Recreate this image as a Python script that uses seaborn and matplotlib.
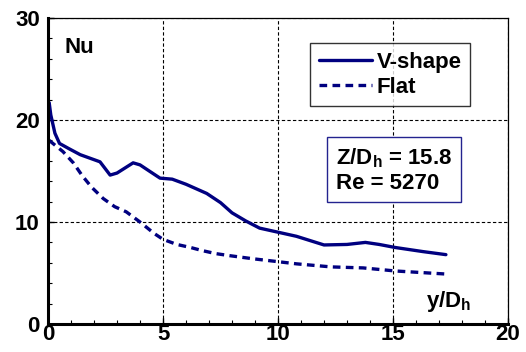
import matplotlib
matplotlib.use("Agg")
import matplotlib.pyplot as plt
import seaborn as sns
import pandas as pd
from matplotlib.ticker import MultipleLocator

sns.set_theme(style="white")
plt.rcParams['font.family'] = ['Liberation Sans', 'DejaVu Sans']
plt.rcParams['font.weight'] = 'bold'
plt.rcParams['text.color'] = 'black'
plt.rcParams['axes.labelcolor'] = 'black'
plt.rcParams['xtick.color'] = 'black'
plt.rcParams['ytick.color'] = 'black'
plt.rcParams['mathtext.fontset'] = 'custom'
plt.rcParams['mathtext.rm'] = 'Liberation Sans:bold'
plt.rcParams['mathtext.bf'] = 'Liberation Sans:bold'
plt.rcParams['mathtext.it'] = 'Liberation Sans:bold'

vshape_x = [0.05, 0.12, 0.3, 0.5, 0.9, 1.4, 2.26, 2.7, 3.0, 3.7, 4.0, 4.4, 4.87, 5.4, 6.0, 6.9, 7.5, 8.0, 8.6, 9.2, 10.8, 12.0, 13.0, 13.8, 14.4, 15.1, 16.3, 17.3]
vshape_y = [21.7, 20.5, 18.7, 17.7, 17.2, 16.6, 15.9, 14.6, 14.8, 15.8, 15.6, 15.0, 14.3, 14.2, 13.7, 12.8, 11.9, 10.9, 10.1, 9.4, 8.6, 7.75, 7.8, 8.0, 7.8, 7.5, 7.1, 6.8]
flat_x = [0.05, 0.65, 1.1, 1.5, 1.9, 2.4, 2.9, 3.4, 4.0, 4.6, 5.0, 5.6, 6.2, 6.7, 7.3, 7.9, 8.9, 10.8, 12.3, 13.7, 15.1, 17.3]
flat_y = [18.0, 16.9, 15.8, 14.5, 13.4, 12.3, 11.5, 11.0, 10.0, 8.9, 8.3, 7.8, 7.5, 7.2, 6.9, 6.7, 6.4, 5.9, 5.6, 5.5, 5.2, 4.9]

df = pd.concat([
    pd.DataFrame({"y": vshape_x, "Nu": vshape_y, "case": "V-shape"}),
    pd.DataFrame({"y": flat_x, "Nu": flat_y, "case": "Flat"}),
])

navy = "#000080"
FS = 16
fig = plt.figure(figsize=(5.26, 3.52), dpi=100)
ax = fig.add_axes([0.0913, 0.0795, 0.8745, 0.8694])
sns.lineplot(data=df, x="y", y="Nu", hue="case", style="case",
             palette={"V-shape": navy, "Flat": navy},
             dashes={"V-shape": "", "Flat": (2.3, 1.6)},
             linewidth=2.4, ax=ax, sort=False, estimator=None)

ax.set_xlim(0, 20)
ax.set_ylim(0, 30)
ax.xaxis.set_major_locator(MultipleLocator(5))
ax.xaxis.set_minor_locator(MultipleLocator(1))
ax.yaxis.set_major_locator(MultipleLocator(10))
ax.yaxis.set_minor_locator(MultipleLocator(2))
ax.tick_params(which='both', direction='in', colors='black', labelsize=FS, bottom=True, left=True)
ax.tick_params(which='major', length=4, width=1)
ax.tick_params(which='minor', length=3, width=0.8)
ax.tick_params(axis='x', pad=0)
ax.tick_params(axis='y', pad=6)
for lab in ax.get_xticklabels() + ax.get_yticklabels():
    lab.set_fontweight('bold')
    lab.set_family('Liberation Sans')
ax.grid(True, which='major', color='black', linestyle=(0, (3, 2)), linewidth=0.8)
for s in ['left', 'bottom']:
    ax.spines[s].set_linewidth(2.2)
    ax.spines[s].set_color('black')
for s in ['top', 'right']:
    ax.spines[s].set_linewidth(0.9)
    ax.spines[s].set_color('black')
ax.set_xlabel("")
ax.set_ylabel("")

ax.text(0.036, 0.902, "Nu", transform=ax.transAxes, fontsize=FS, fontweight='bold',
        family='Liberation Sans', va='center', ha='left')
ax.text(0.822, 0.072, r"y/D$_\mathrm{h}$", transform=ax.transAxes, fontsize=FS, fontweight='bold',
        family='Liberation Sans', va='center', ha='left')

leg = ax.legend(loc='upper left', bbox_to_anchor=(0.57, 0.918), frameon=True,
                fancybox=False, edgecolor='black', handlelength=2.4, handletextpad=0.22,
                borderpad=0.38, labelspacing=0.2, borderaxespad=0,
                prop={'family': 'Liberation Sans', 'weight': 'bold', 'size': FS})
leg.get_frame().set_linewidth(1.0)

ax.text(0.626, 0.503, "Z/D$_\\mathrm{h}$ = 15.8\nRe = 5270", transform=ax.transAxes, fontsize=FS,
        fontweight='bold', family='Liberation Sans', va='center', ha='left', linespacing=1.15,
        bbox=dict(boxstyle='square,pad=0.4', facecolor='white', edgecolor='#23238f', linewidth=1.0))

fig.savefig("out.png", dpi=100)
